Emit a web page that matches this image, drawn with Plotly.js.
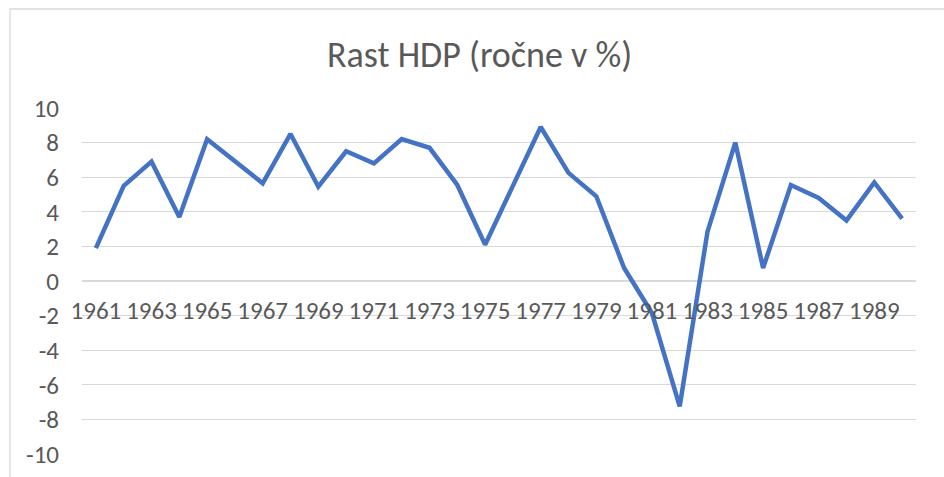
<!DOCTYPE html>
<html>
<head>
<meta charset="utf-8">
<script src="https://cdn.plot.ly/plotly-3.0.1.min.js"></script>
<style>
html,body{margin:0;padding:0;background:#fff;}
#chart{width:944px;height:477px;}
</style>
</head>
<body>
<div id="chart"></div>
<script>
const years = ["1961","1962","1963","1964","1965","1966","1967","1968","1969","1970",
  "1971","1972","1973","1974","1975","1976","1977","1978","1979","1980",
  "1981","1982","1983","1984","1985","1986","1987","1988","1989","1990"];
const growth = [1.9, 5.5, 6.9, 3.7, 8.2, 6.95, 5.65, 8.5, 5.45, 7.5,
  6.8, 8.2, 7.7, 5.55, 2.1, 5.5, 8.9, 6.25, 4.9, 0.75,
  -1.85, -7.25, 2.85, 8.0, 0.75, 5.55, 4.8, 3.5, 5.7, 3.6];
const tickYears = ["1961","1963","1965","1967","1969","1971","1973","1975","1977","1979","1981","1983","1985","1987","1989"];
const yTicks = [-10,-8,-6,-4,-2,0,2,4,6,8,10];
const yTickText = ["-10","-8","-6","-4","-2","0","2","4","6","8","10"];

const font = "Calibri, Carlito, 'Open Sans', sans-serif";
const textColor = "#595959";

const trace = {
  x: years,
  y: growth,
  type: "scatter",
  mode: "lines",
  line: {color: "#4472C4", width: 4.5},
  hoverinfo: "x+y"
};

const layout = {
  width: 944, height: 477,
  margin: {l: 82, r: 28, t: 108, b: 23, pad: 0},
  paper_bgcolor: "#fff",
  plot_bgcolor: "#fff",
  showlegend: false,
  font: {family: font, color: textColor, size: 25},
  title: {
    text: "Rast HDP (ročne v %)",
    font: {family: "'Calibri Light', Calibri, Carlito, 'Open Sans', sans-serif", size: 36, color: textColor},
    x: 0.508, xanchor: "center",
    y: 0.885, yanchor: "middle"
  },
  xaxis: {
    type: "category",
    range: [-0.5, 29.5],
    tickmode: "array",
    tickvals: tickYears,
    ticktext: tickYears,
    tickangle: 0,
    ticks: "",
    showgrid: false,
    showline: false,
    zeroline: false,
    anchor: "free",
    position: 0.5,
    ticklabelstandoff: 12,
    tickfont: {family: font, size: 25, color: textColor},
    fixedrange: true
  },
  yaxis: {
    range: [-10, 10],
    tickmode: "array",
    tickvals: yTicks,
    ticktext: yTickText,
    ticks: "",
    showgrid: true,
    gridcolor: "#d9d9d9",
    gridwidth: 1.3,
    zeroline: true,
    zerolinecolor: "#d9d9d9",
    zerolinewidth: 1.3,
    showline: false,
    ticklabelstandoff: 22,
    tickfont: {family: font, size: 25, color: textColor},
    fixedrange: true
  },
  shapes: [{
    type: "rect", xref: "paper", yref: "paper",
    x0: (10 - 82) / 834, x1: 1.1,
    y0: -0.2, y1: (454 - 9) / 346,
    line: {color: "#d9d9d9", width: 1.3},
    fillcolor: "rgba(0,0,0,0)",
    layer: "below"
  }]
};

Plotly.newPlot("chart", [trace], layout, {displayModeBar: false, staticPlot: true});
</script>
</body>
</html>
